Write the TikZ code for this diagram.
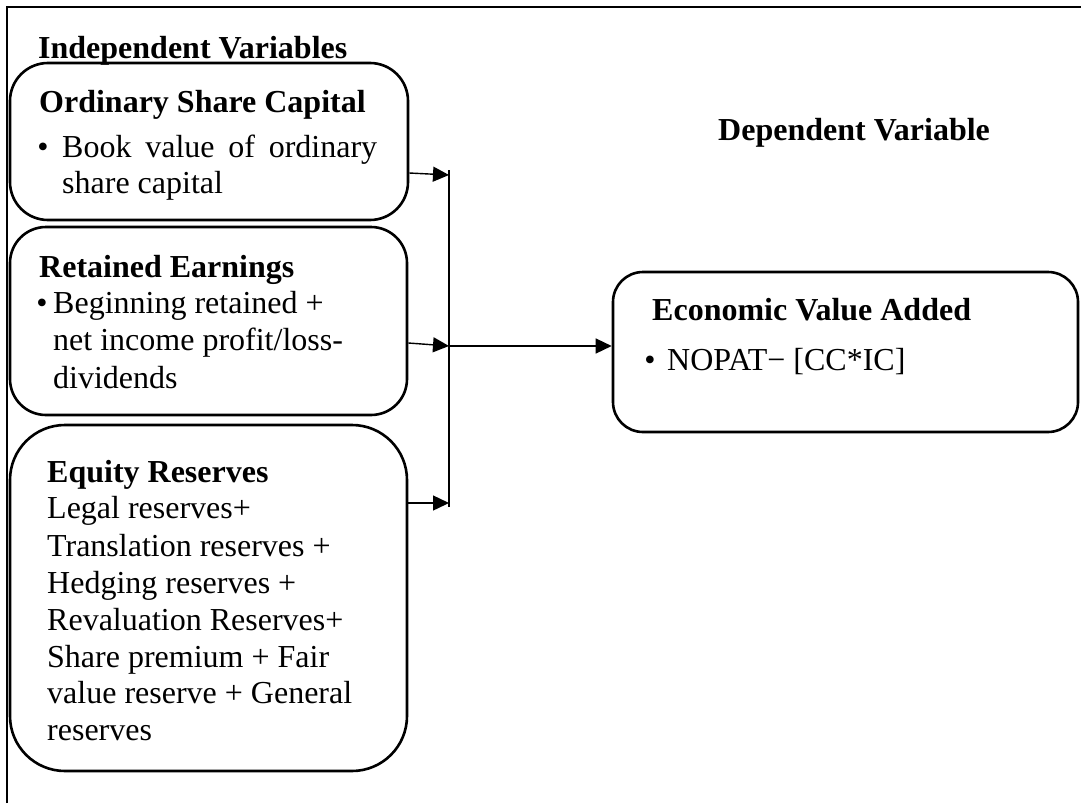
\documentclass[tikz,border=0pt]{standalone}
\usepackage{fontspec}
\setmainfont{Liberation Serif}
\usetikzlibrary{arrows.meta}
\begin{document}
\begin{tikzpicture}[x=1pt,y=-1pt,
  box/.style={draw, line width=2.6pt, rounded corners=#1, inner sep=0pt},
  txt/.style={anchor=base west, inner sep=0pt, font=\fontsize{32}{36.8}\selectfont},
  btxt/.style={txt, font=\fontsize{32}{36.8}\selectfont\bfseries},
  bul/.style={anchor=base, inner sep=0pt, font=\fontsize{32}{36.8}\selectfont},
  conn/.style={line width=1.4pt},
  arr/.style={conn, -{Triangle[length=16pt,width=15pt]}},
]
\useasboundingbox (0,0) rectangle (1081,803);
% outer frame
\draw[line width=2.6pt] (7,803) -- (7,7) -- (1081,7);

% boxes
\node[box=38pt, minimum width=398pt, minimum height=157pt] (b1) at (209,141.5) {};
\node[box=36pt, minimum width=397pt, minimum height=188pt] (b2) at (208.5,321) {};
\node[box=55pt, minimum width=397pt, minimum height=346pt] (b3) at (208.5,598) {};
\node[box=30pt, minimum width=465pt, minimum height=160pt] (eva) at (845.5,352) {};

% headings
\node[btxt] (t0) at (38,58) {Independent Variables};
\node[btxt] (t1) at (718,140) {Dependent Variable};

% box 1
\node[btxt] (o1) at (39,112) {Ordinary Share Capital};
\node[bul] (o2b) at (43,157) {•};
\node[txt] (o2) at (62,157) {\hbox to 315pt{Book\hfill value\hfill of\hfill ordinary}};
\node[txt] (o3) at (62,193) {share capital};

% box 2
\node[btxt] (r1) at (39,277) {Retained Earnings};
\node[bul] (r2b) at (42,313) {•};
\node[txt] (r2) at (53,313) {Beginning retained +};
\node[txt] (r3) at (53,350) {net income profit/loss-};
\node[txt] (r4) at (53,388) {dividends};

% box 3
\node[btxt] (e0) at (47,482) {Equity Reserves};
\foreach \yy/\s [count=\i] in {518/Legal reserves+, 556/Translation reserves +, 593/Hedging reserves +, 630/Revaluation Reserves+, 667/Share premium + Fair, 703/value reserve + General, 740/reserves}
  \node[txt] (e\i) at (47,\yy) {\s};

% EVA box
\node[btxt] (v1) at (652,320) {Economic Value Added};
\node[bul] (v2b) at (650,370) {•};
\node[txt] (v2) at (667,370) {NOPAT− [CC*IC]};

% connectors
\coordinate (jt) at (449,170);
\coordinate (jb) at (449,507);
\coordinate (j1) at (449,175);
\coordinate (j2) at (449,346);
\coordinate (j3) at (449,503);
\draw[conn] (jt) -- (jb);
\draw[arr] (b1.east |- 0,173) -- (j1);
\draw[arr] (b2.east |- 0,343) -- (j2);
\draw[arr] (b3.east |- 0,503) -- (j3);
\draw[arr] (j2) -- (eva.west |- j2);
\end{tikzpicture}
\end{document}
